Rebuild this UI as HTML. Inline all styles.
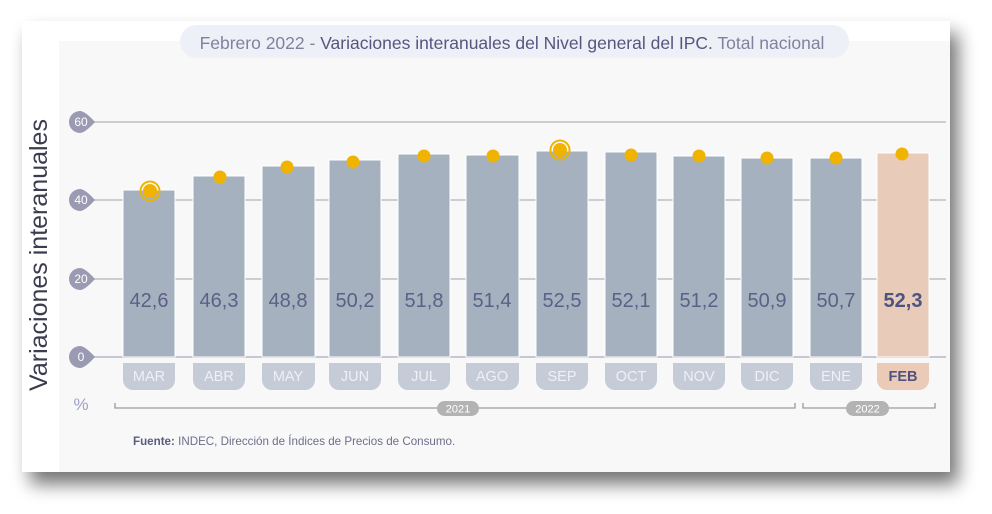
<!DOCTYPE html>
<html><head><meta charset="utf-8"><style>
html,body{margin:0;padding:0;background:#fff;}
svg{display:block;font-family:"Liberation Sans",sans-serif;}
</style></head><body>
<svg width="992" height="514" viewBox="0 0 992 514" xmlns="http://www.w3.org/2000/svg">
<defs>
<filter id="sh" x="-10%" y="-10%" width="125%" height="130%">
<feGaussianBlur in="SourceAlpha" stdDeviation="9"/>
<feOffset dx="8" dy="12"/>
<feComponentTransfer><feFuncA type="linear" slope="0.55"/></feComponentTransfer>
<feMerge><feMergeNode/><feMergeNode in="SourceGraphic"/></feMerge>
</filter>
</defs>
<rect x="0" y="0" width="992" height="514" fill="#ffffff"/>
<rect x="22" y="21" width="928" height="451" fill="#ffffff" filter="url(#sh)"/>
<rect x="59" y="41" width="891" height="431" fill="#f8f8f8"/>
<rect x="180" y="25" width="669" height="33" rx="16.5" fill="#eef0f8"/>
<text x="512" y="49" text-anchor="middle" font-size="17.5" fill="#857f9f">Febrero 2022 - <tspan fill="#5a547f">Variaciones interanuales del Nivel general del IPC.</tspan> Total nacional</text>
<text transform="translate(47,255) rotate(-90)" text-anchor="middle" font-size="25" fill="#3c3c50">Variaciones interanuales</text>
<g stroke="#bdbdc4" stroke-width="1.5">
<line x1="92" y1="122" x2="946" y2="122"/>
<line x1="92" y1="200" x2="946" y2="200"/>
<line x1="92" y1="279" x2="946" y2="279"/>
<line x1="92" y1="357" x2="946" y2="357" stroke="#c8c6d4" stroke-width="2"/>
</g>
<g fill="#9a9bb2">
<path d="M80 111 a11 11 0 1 0 0 22 q5 0 15 -11 q-10 -11 -15 -11z"/>
<path d="M80 189 a11 11 0 1 0 0 22 q5 0 15 -11 q-10 -11 -15 -11z"/>
<path d="M80 268 a11 11 0 1 0 0 22 q5 0 15 -11 q-10 -11 -15 -11z"/>
<path d="M80 346 a11 11 0 1 0 0 22 q5 0 15 -11 q-10 -11 -15 -11z"/>
</g>
<g fill="#ffffff" font-size="12" text-anchor="middle">
<text x="81" y="126">60</text><text x="81" y="204">40</text><text x="81" y="283">20</text><text x="81" y="361">0</text>
</g>
<g stroke="#ffffff" stroke-width="1">
<rect x="123" y="190" width="52" height="167" fill="#a6b1c0"/>
<rect x="193" y="176" width="52" height="181" fill="#a6b1c0"/>
<rect x="262" y="166" width="53" height="191" fill="#a6b1c0"/>
<rect x="329" y="160" width="52" height="197" fill="#a6b1c0"/>
<rect x="398" y="154" width="52" height="203" fill="#a6b1c0"/>
<rect x="466" y="155" width="53" height="202" fill="#a6b1c0"/>
<rect x="536" y="151" width="52" height="206" fill="#a6b1c0"/>
<rect x="605" y="152" width="52" height="205" fill="#a6b1c0"/>
<rect x="673" y="156" width="52" height="201" fill="#a6b1c0"/>
<rect x="741" y="158" width="52" height="199" fill="#a6b1c0"/>
<rect x="810" y="158" width="52" height="199" fill="#a6b1c0"/>
<rect x="877" y="153" width="52" height="204" fill="#e8cbb9"/>
</g>
<g font-size="20" fill="#5b6186" text-anchor="middle">
<text x="149" y="307">42,6</text><text x="219" y="307">46,3</text><text x="288" y="307">48,8</text>
<text x="355" y="307">50,2</text><text x="424" y="307">51,8</text><text x="492" y="307">51,4</text>
<text x="562" y="307">52,5</text><text x="631" y="307">52,1</text><text x="699" y="307">51,2</text>
<text x="767" y="307">50,9</text><text x="836" y="307">50,7</text>
<text x="903" y="307" font-weight="bold" fill="#4e5380">52,3</text>
</g>
<g fill="#f0b400">
<circle cx="150" cy="191" r="7"/><circle cx="150" cy="191" r="9.5" fill="none" stroke="#f0b400" stroke-width="2"/>
<circle cx="220" cy="177" r="6.5"/><circle cx="287" cy="167" r="6.5"/><circle cx="353" cy="162" r="6.5"/>
<circle cx="424" cy="156" r="6.5"/><circle cx="493" cy="156" r="6.5"/>
<circle cx="560" cy="150" r="7"/><circle cx="560" cy="150" r="9.5" fill="none" stroke="#f0b400" stroke-width="2"/>
<circle cx="631" cy="155" r="6.5"/><circle cx="699" cy="156" r="6.5"/><circle cx="767" cy="158" r="6.5"/>
<circle cx="836" cy="158" r="6.5"/><circle cx="902" cy="154" r="6.5"/>
</g>
<g fill="#c6cbd8">
<path d="M123 363 h52 v17 a10 10 0 0 1 -10 10 h-32 a10 10 0 0 1 -10 -10z"/>
<path d="M193 363 h52 v17 a10 10 0 0 1 -10 10 h-32 a10 10 0 0 1 -10 -10z"/>
<path d="M262 363 h53 v17 a10 10 0 0 1 -10 10 h-33 a10 10 0 0 1 -10 -10z"/>
<path d="M329 363 h52 v17 a10 10 0 0 1 -10 10 h-32 a10 10 0 0 1 -10 -10z"/>
<path d="M398 363 h52 v17 a10 10 0 0 1 -10 10 h-32 a10 10 0 0 1 -10 -10z"/>
<path d="M466 363 h53 v17 a10 10 0 0 1 -10 10 h-33 a10 10 0 0 1 -10 -10z"/>
<path d="M536 363 h52 v17 a10 10 0 0 1 -10 10 h-32 a10 10 0 0 1 -10 -10z"/>
<path d="M605 363 h52 v17 a10 10 0 0 1 -10 10 h-32 a10 10 0 0 1 -10 -10z"/>
<path d="M673 363 h52 v17 a10 10 0 0 1 -10 10 h-32 a10 10 0 0 1 -10 -10z"/>
<path d="M741 363 h52 v17 a10 10 0 0 1 -10 10 h-32 a10 10 0 0 1 -10 -10z"/>
<path d="M810 363 h52 v17 a10 10 0 0 1 -10 10 h-32 a10 10 0 0 1 -10 -10z"/>
<path d="M877 363 h52 v17 a10 10 0 0 1 -10 10 h-32 a10 10 0 0 1 -10 -10z" fill="#ebcbb8"/>
</g>
<g font-size="14.5" fill="#eef0f5" text-anchor="middle">
<text x="149" y="381">MAR</text><text x="219" y="381">ABR</text><text x="288" y="381">MAY</text>
<text x="355" y="381">JUN</text><text x="424" y="381">JUL</text><text x="492" y="381">AGO</text>
<text x="562" y="381">SEP</text><text x="631" y="381">OCT</text><text x="699" y="381">NOV</text>
<text x="767" y="381">DIC</text><text x="836" y="381">ENE</text>
<text x="903" y="381" font-weight="bold" fill="#4e5380">FEB</text>
</g>
<text x="81" y="410" text-anchor="middle" font-size="17" fill="#9ea3c6">%</text>
<g stroke="#9a9a9a" stroke-width="1.3" fill="none">
<path d="M115 403 v5 h680 v-5"/>
<path d="M803 403 v5 h132 v-5"/>
</g>
<rect x="437" y="401" width="42" height="15" rx="7.5" fill="#b3b3b3"/>
<text x="458" y="412.5" text-anchor="middle" font-size="11" fill="#ffffff">2021</text>
<rect x="846" y="401" width="43" height="15" rx="7.5" fill="#b3b3b3"/>
<text x="867.5" y="412.5" text-anchor="middle" font-size="11" fill="#ffffff">2022</text>
<text x="133" y="445" font-size="11.6" fill="#6c6f8c"><tspan font-weight="bold" fill="#5a5d80">Fuente:</tspan> INDEC, Dirección de Índices de Precios de Consumo.</text>
</svg>
</body></html>
